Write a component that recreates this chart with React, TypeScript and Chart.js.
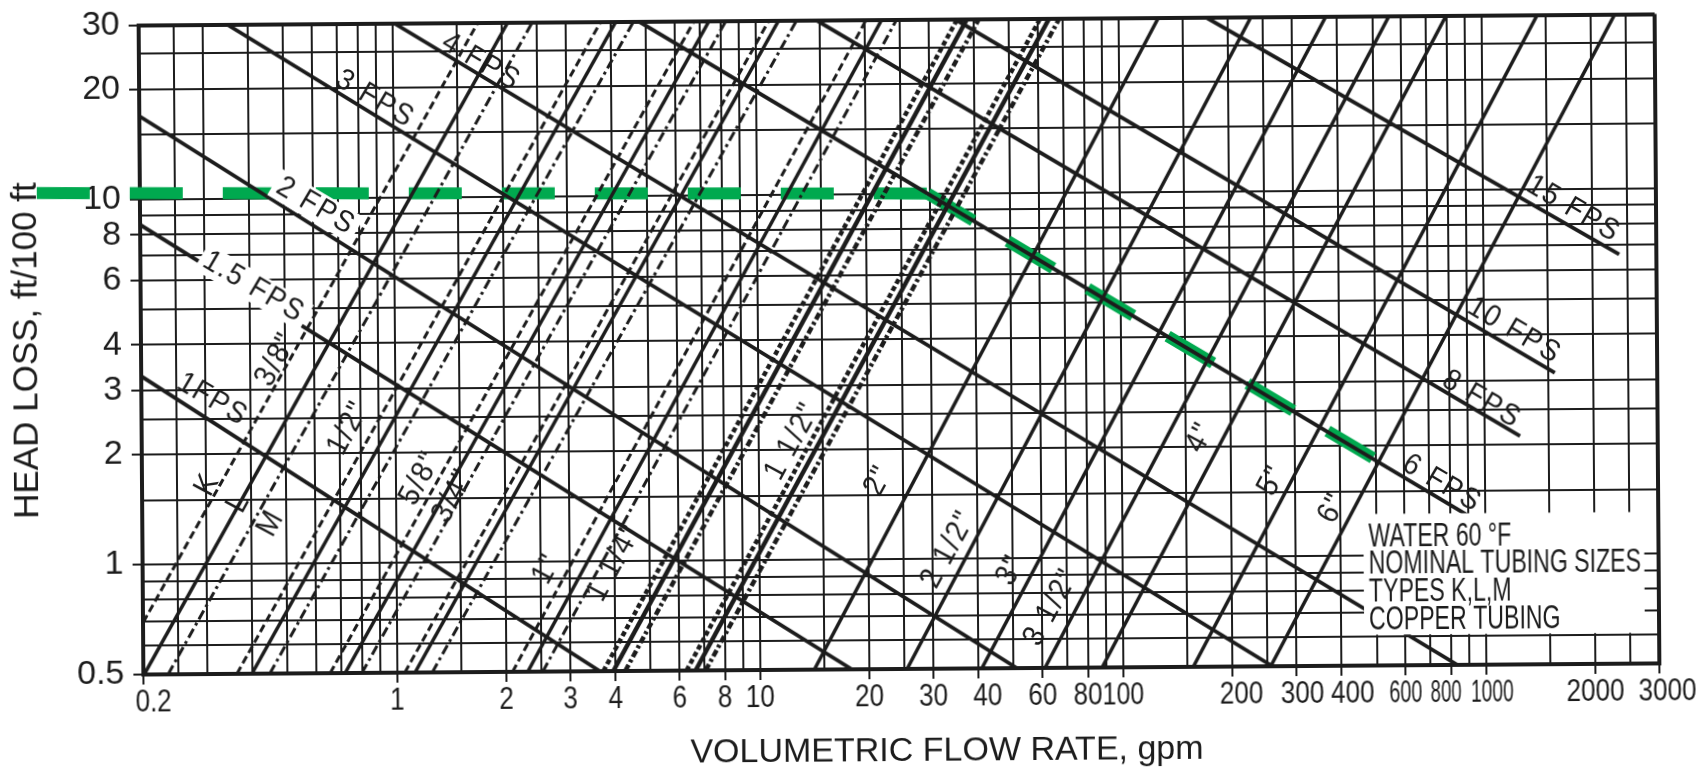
import React, { useEffect, useRef } from "react";
import { Chart, registerables } from "chart.js";

Chart.register(...registerables);

// ---------- axes ----------
const X_GRID = [0.2, 0.25, 0.3, 0.4, 0.5, 0.6, 0.7, 0.8, 0.9, 1, 1.5, 2, 2.5, 3, 4, 5, 6, 7, 8, 9, 10, 15, 20, 25, 30, 40, 50, 60, 70, 80, 90, 100, 150, 200, 250, 300, 400, 500, 600, 700, 800, 900, 1000, 1500, 2000, 2500, 3000];
const X_LABELS = [0.2, 1, 2, 3, 4, 6, 8, 10, 20, 30, 40, 60, 80, 100, 200, 300, 400, 600, 800, 1000, 2000, 3000];
const Y_GRID = [0.5, 0.6, 0.7, 0.8, 0.9, 1, 1.5, 2, 2.5, 3, 4, 5, 6, 7, 8, 9, 10, 15, 20, 25, 30];
const Y_LABELS = [0.5, 1, 2, 3, 4, 6, 8, 10, 20, 30];
const X_TITLE = "VOLUMETRIC FLOW RATE, gpm";
const Y_TITLE = "HEAD LOSS, ft/100 ft";

// hand-lettered x tick labels: horizontal squeeze / nudge (style only)
const X_LABEL_SQUEEZE: Record<string, number> = { "600": 0.64, "800": 0.6, "1000": 0.62, "100": 0.8 };
const X_LABEL_NUDGE: Record<string, number> = { "0.2": 10, "40": 9, "200": 9, "300": 6, "400": 11, "800": -5, "1000": 6, "3000": 8 };

// ---------- constant-velocity lines (gpm, ft/100 ft) ----------
const FPS_NAMES = ["1FPS", "1.5 FPS", "2 FPS", "3 FPS", "4 FPS", "6 FPS", "8 FPS", "10 FPS", "15 FPS"];
const FPS_Q_START = [0.2, 0.2, 0.2, 0.35, 1.01, 4.77, 14.7, 35.4, 174];
const FPS_H_START = [3.28, 8.52, 16.9, 30, 30, 30, 30, 30, 30];
const FPS_Q_END = [3.62, 17.9, 51, 258, 834, 923, 1253, 1567, 2370];
const FPS_H_END = [0.5, 0.5, 0.5, 0.5, 0.5, 1.26, 2.11, 3.14, 6.6];
const FPS_LABEL_Q = [0.314, 0.41, 0.61, 0.893, 1.75, 762, 984, 1214, 1778];
const FPS_LABEL_H = [2.82, 5.72, 9.5, 18.6, 23.4, 1.57, 2.66, 4.1, 8.8];
const FPS_LABEL_BG = [false, true, true, false, false, false, false, false, false];

// ---------- copper tube lines (types K, L, M) ----------
const TUBE_SIZE = ["3/8", "3/8", "3/8", "1/2", "1/2", "1/2", "5/8", "5/8", "5/8", "3/4", "3/4", "3/4", "1", "1", "1", "1 1/4", "1 1/4", "1 1/4", "1 1/2", "1 1/2", "1 1/2", "2", "2 1/2", "3", "3 1/2", "4", "5", "6"];
const TUBE_TYPE = ["K", "L", "M", "K", "L", "M", "K", "L", "M", "K", "L", "M", "K", "L", "M", "K", "L", "M", "K", "L", "M", "L", "L", "L", "L", "L", "L", "L"];
const TUBE_Q_LOW = [0.166, 0.201, 0.234, 0.362, 0.398, 0.446, 0.654, 0.719, 0.8, 1.05, 1.12, 1.25, 2.08, 2.29, 2.52, 3.7, 3.94, 4.25, 6.27, 6.64, 7.08, 14.1, 25.4, 40.8, 60.9, 87.5, 156, 255];
const TUBE_Q_HIGH = [1.72, 2.08, 2.43, 3.75, 4.13, 4.62, 6.78, 7.46, 8.3, 10.9, 11.6, 13.0, 20.2, 22.3, 24.5, 36.0, 38.3, 41.3, 60.9, 64.5, 68.8, 129, 232, 373, 557, 800, 1426, 2331];
const TUBE_H_LOW = 0.5;
const TUBE_H_HIGH = 30;
const HEAVY_SIZES = ["1 1/4", "1 1/2"];

const SIZE_LABELS = ["K", "L", "M", '3/8"', '1/2"', '5/8"', '3/4"', '1"', '1 1/4"', '1 1/2"', '2"', '2 1/2"', '3"', '3 1/2"', '4"', '5"', '6"'];
const SIZE_LABEL_Q = [0.303, 0.369, 0.452, 0.472, 0.743, 1.17, 1.44, 2.6, 3.99, 12.4, 21.4, 33.2, 49.3, 63.6, 165, 260, 381];
const SIZE_LABEL_H = [1.65, 1.47, 1.29, 3.62, 2.34, 1.7, 1.52, 0.954, 0.99, 2.11, 1.64, 1.06, 0.927, 0.732, 2.12, 1.61, 1.35];

// ---------- highlighted read-out (green) ----------
const READ_Q = [0.104, 29.6];
const READ_H = [10.45, 10];
const READ2_Q = [29.6, 492];
const READ2_H = [10, 1.85];

// ---------- note block ----------
const NOTE_LINES = ["WATER 60 °F", "NOMINAL TUBING SIZES", "TYPES K,L,M", "COPPER TUBING"];
const NOTE_Q = 477;
const NOTE_H = [1.124, 0.948, 0.794, 0.665];
const NOTE_BOX_Q = [462, 2740];
const NOTE_BOX_H = [0.607, 1.3];

const INK = "#1c1c1c";
const GREEN = "#00a94f";
const FONT = '"Liberation Sans", Arial, Helvetica, sans-serif';

function buildDatasets() {
  const ds: any[] = [];
  TUBE_SIZE.forEach((s, i) => {
    const t = TUBE_TYPE[i];
    const heavy = HEAVY_SIZES.includes(s);
    ds.push({
      label: `${s}" type ${t}`,
      data: [
        { x: TUBE_Q_LOW[i], y: TUBE_H_LOW },
        { x: TUBE_Q_HIGH[i], y: TUBE_H_HIGH },
      ],
      borderColor: INK,
      borderWidth: heavy ? 4.5 : t === "L" ? 3.5 : 3,
      borderDash: t === "K" ? (heavy ? [5, 3] : [8, 4]) : t === "M" ? (heavy ? [7, 3, 3, 3] : [10, 4, 3, 4]) : [],
      pointRadius: 0,
      fill: false,
      tension: 0,
    });
  });
  FPS_NAMES.forEach((n, i) => {
    ds.push({
      label: n,
      data: [
        { x: FPS_Q_START[i], y: FPS_H_START[i] },
        { x: FPS_Q_END[i], y: FPS_H_END[i] },
      ],
      borderColor: INK,
      borderWidth: 3.8,
      pointRadius: 0,
      fill: false,
      tension: 0,
    });
  });
  ds.push({
    label: "read-out",
    data: READ_Q.map((q, i) => ({ x: q, y: READ_H[i] })),
    borderColor: GREEN,
    borderWidth: 12,
    borderDash: [53, 40],
    borderCapStyle: "butt",
    pointRadius: 0,
    fill: false,
    clip: false,
  });
  ds.push({
    label: "read-out 2",
    data: READ2_Q.map((q, i) => ({ x: q, y: READ2_H[i] })),
    borderColor: GREEN,
    borderWidth: 12,
    borderDash: [53, 40],
    borderCapStyle: "butt",
    pointRadius: 0,
    fill: false,
    clip: false,
  });
  return ds;
}

const annotatePlugin = {
  id: "annotate",
  afterDatasetsDraw(chart: any) {
    const { ctx } = chart;
    const xs = chart.scales.x;
    const ys = chart.scales.y;
    ctx.save();

    const bx0 = xs.getPixelForValue(NOTE_BOX_Q[0]);
    const bx1 = xs.getPixelForValue(NOTE_BOX_Q[1]);
    const by0 = ys.getPixelForValue(NOTE_BOX_H[1]);
    const by1 = ys.getPixelForValue(NOTE_BOX_H[0]);
    ctx.fillStyle = "#ffffff";
    ctx.fillRect(bx0, by0, bx1 - bx0, by1 - by0);

    const drawLabel = (text: string, q: number, h: number, angle: number, size: number, bg: boolean, squeeze: number, spacing: number) => {
      const px = xs.getPixelForValue(q);
      const py = ys.getPixelForValue(h);
      ctx.save();
      ctx.translate(px, py);
      ctx.rotate((angle * Math.PI) / 180);
      ctx.scale(squeeze, 1);
      ctx.font = `${size}px ${FONT}`;
      try {
        (ctx as any).letterSpacing = `${spacing}px`;
      } catch (e) {}
      const w = ctx.measureText(text).width;
      if (bg) {
        ctx.fillStyle = "#ffffff";
        ctx.fillRect(-w / 2 - 5, -size * 0.5, w + 10, size * 1.0);
      }
      ctx.fillStyle = INK;
      ctx.textAlign = "center";
      ctx.textBaseline = "middle";
      ctx.fillText(text, 0, 0);
      ctx.restore();
    };

    FPS_NAMES.forEach((n, i) => drawLabel(n, FPS_LABEL_Q[i], FPS_LABEL_H[i], 31, 30, FPS_LABEL_BG[i], 0.92, 2));
    SIZE_LABELS.forEach((n, i) => drawLabel(n, SIZE_LABEL_Q[i], SIZE_LABEL_H[i], -61, 31, false, 0.9, 2));

    ctx.font = `34px ${FONT}`;
    ctx.fillStyle = INK;
    ctx.textAlign = "left";
    ctx.textBaseline = "middle";
    const nx = xs.getPixelForValue(NOTE_Q);
    NOTE_LINES.forEach((t, i) => {
      const ny = ys.getPixelForValue(NOTE_H[i]);
      ctx.save();
      ctx.translate(nx, ny);
      ctx.scale(0.68, 1);
      ctx.fillText(t, 0, 0);
      ctx.restore();
    });
    ctx.restore();
  },
  afterDraw(chart: any) {
    // x tick labels (hand-lettered, narrow) and x-axis title, placed from the x scale
    const { ctx, chartArea } = chart;
    const xs = chart.scales.x;
    ctx.save();
    ctx.font = `31px ${FONT}`;
    ctx.fillStyle = INK;
    ctx.textAlign = "center";
    ctx.textBaseline = "middle";
    X_LABELS.forEach((v) => {
      const t = String(v);
      const px = xs.getPixelForValue(v) + (X_LABEL_NUDGE[t] || 0);
      ctx.save();
      ctx.translate(px, chartArea.bottom + 28);
      ctx.scale(X_LABEL_SQUEEZE[t] || 0.84, 1);
      ctx.fillText(t, 0, 0);
      ctx.restore();
    });
    ctx.font = `34px ${FONT}`;
    const titleX = (chartArea.left + chartArea.right) / 2 + 45;
    ctx.fillText(X_TITLE, titleX, chartArea.bottom + 83);
    ctx.restore();
  },
};

export default function App() {
  const ref = useRef<HTMLCanvasElement>(null);
  useEffect(() => {
    if (!ref.current) return;
    const chart = new Chart(ref.current, {
      type: "line",
      data: { datasets: buildDatasets() },
      options: {
        responsive: false,
        animation: false,
        events: [],
        layout: { padding: { top: 19.5, right: 50, left: 0, bottom: 0 } },
        plugins: { legend: { display: false }, tooltip: { enabled: false } },
        scales: {
          x: {
            type: "logarithmic",
            min: 0.2,
            max: 3000,
            afterBuildTicks: (s: any) => {
              s.ticks = X_GRID.map((v) => ({ value: v }));
            },
            afterFit: (s: any) => {
              s.height = 100;
            },
            ticks: {
              display: false,
              autoSkip: false,
              maxRotation: 0,
              minRotation: 0,
              callback: (v: any) => (X_LABELS.includes(Number(v)) ? String(v) : ""),
            },
            grid: {
              color: INK,
              lineWidth: (c: any) => (c.tick && (c.tick.value === 0.2 || c.tick.value === 3000) ? 4 : 2),
              drawTicks: true,
              tickLength: 10,
              tickWidth: 2,
              tickColor: (c: any) => (c.tick && X_LABELS.includes(c.tick.value) ? INK : "rgba(0,0,0,0)"),
            },
            border: { display: true, color: INK, width: 4 },
            title: { display: false, text: X_TITLE },
          },
          y: {
            type: "logarithmic",
            min: 0.5,
            max: 30,
            afterBuildTicks: (s: any) => {
              s.ticks = Y_GRID.map((v) => ({ value: v }));
            },
            afterFit: (s: any) => {
              s.width = 141;
            },
            ticks: {
              autoSkip: false,
              padding: 9,
              color: INK,
              font: { family: FONT, size: 34, lineHeight: 0.6 },
              callback: (v: any) => (Y_LABELS.includes(Number(v)) ? String(v) : ""),
            },
            grid: {
              color: INK,
              lineWidth: (c: any) => (c.tick && (c.tick.value === 0.5 || c.tick.value === 30) ? 4 : 2),
              drawTicks: true,
              tickLength: 10,
              tickWidth: 2,
              tickColor: (c: any) => (c.tick && Y_LABELS.includes(c.tick.value) ? INK : "rgba(0,0,0,0)"),
            },
            border: { display: true, color: INK, width: 4 },
            title: {
              display: true,
              text: Y_TITLE,
              color: INK,
              font: { family: FONT, size: 35, lineHeight: 1 },
              padding: { top: 10, bottom: 0 },
            },
          },
        },
      },
      plugins: [annotatePlugin],
    } as any);
    return () => chart.destroy();
  }, []);

  return (
    <div style={{ position: "fixed", left: 0, top: 0, width: 1707, height: 769, overflow: "hidden", background: "#ffffff" }}>
      <canvas
        ref={ref}
        width={1707}
        height={769}
        style={{ width: 1707, height: 769, display: "block", transform: "rotate(-0.42deg)", transformOrigin: "897px 345px" }}
      />
    </div>
  );
}
